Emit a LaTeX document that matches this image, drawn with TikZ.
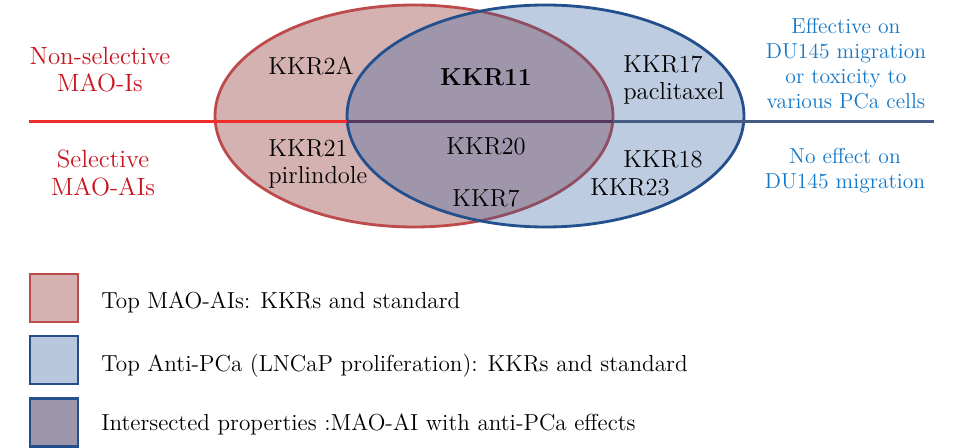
\documentclass[tikz,border=0pt]{standalone}
\usetikzlibrary{positioning}
\definecolor{maoline}{RGB}{190,75,75}
\definecolor{maofill}{RGB}{213,178,178}
\definecolor{pcaline}{RGB}{35,80,140}
\definecolor{pcabase}{RGB}{38,88,155}
\definecolor{redtext}{RGB}{200,20,30}
\definecolor{bluetext}{RGB}{20,120,200}
\definecolor{redrule}{RGB}{240,45,45}
\definecolor{midrule}{RGB}{85,55,95}
\definecolor{bluerule}{RGB}{70,92,130}

\begin{document}
\begin{tikzpicture}[x=0.02cm,y=-0.02cm,
  kkr/.style={font=\fontsize{14}{15.6}\selectfont,inner sep=0pt,align=left},
  side/.style={font=\fontsize{14.2}{15.4}\selectfont,inner sep=0pt,align=center,text=redtext},
  eff/.style={font=\fontsize{12.3}{14.2}\selectfont,inner sep=0pt,align=center,text=bluetext},
  legbox/.style={draw,line width=1.2pt,minimum size=0.96cm,inner sep=0pt},
  legtxt/.style={font=\fontsize{13.2}{16}\selectfont,inner sep=0pt,anchor=west}]

\useasboundingbox (0,0) rectangle (960,448);
\fill[white] (0,0) rectangle (960,448);

% the two sets
\filldraw[fill=maofill,draw=maoline,line width=1.6pt] (414,116) ellipse [x radius=199, y radius=111];
\fill[pcabase,fill opacity=0.3] (545.5,116) ellipse [x radius=198.5, y radius=111];
\draw[pcaline,line width=1.6pt] (545.5,116) ellipse [x radius=198.5, y radius=111];

% dividing rule
\coordinate (ruleL) at (29,122);
\coordinate (ruleA) at (347,122);
\coordinate (ruleB) at (613,122);
\coordinate (ruleR) at (934,122);
\draw[redrule,line width=1.7pt] (ruleL) -- (ruleA);
\draw[midrule,line width=1.7pt] (ruleA) -- (ruleB);
\draw[bluerule,line width=1.7pt] (ruleB) -- (ruleR);

% row labels
\node[side] (nonsel) at (100,70) {Non-selective\\MAO-Is};
\node[side] (sel) at (103,173) {Selective\\MAO-AIs};
\node[eff] (effect) at (846,64) {Effective on\\DU145 migration\\or toxicity to\\various PCa cells};
\node[eff] (noeffect) at (845,171) {No effect on\\DU145 migration};

% compounds
\node[kkr,anchor=west] (kkr2a) at (268,66) {KKR2A};
\node[kkr,font=\fontsize{14}{15.6}\selectfont\bfseries] (kkr11) at (486,77) {KKR11};
\node[kkr,anchor=west] (kkr17) at (623,80) {KKR17\\paclitaxel};
\node[kkr,anchor=west] (kkr21) at (268,164) {KKR21\\pirlindole};
\node[kkr] (kkr20) at (486,146) {KKR20};
\node[kkr] (kkr7) at (486,198) {KKR7};
\node[kkr,anchor=west] (kkr18) at (623,159) {KKR18};
\node[kkr,anchor=west] (kkr23) at (590,187) {KKR23};

% legend
\node[legbox,draw=maoline,fill=maofill] (boxA) at (54,298) {};
\node[legbox,draw=pcaline,fill=pcabase!33] (boxB) at (54,360) {};
\node[legbox,draw=pcaline,fill={rgb,255:red,155;green,150;blue,172}] (boxC) at (54,422.5) {};
\node[legtxt,right=0.44cm of boxA,yshift=-0.09cm] (txtA) {Top MAO-AIs: KKRs and standard};
\node[legtxt,right=0.44cm of boxB,yshift=-0.12cm] (txtB) {Top Anti-PCa (LNCaP proliferation): KKRs and standard};
\node[legtxt,right=0.44cm of boxC,yshift=-0.03cm] (txtC) {Intersected properties :MAO-AI with anti-PCa effects};
\end{tikzpicture}
\end{document}
